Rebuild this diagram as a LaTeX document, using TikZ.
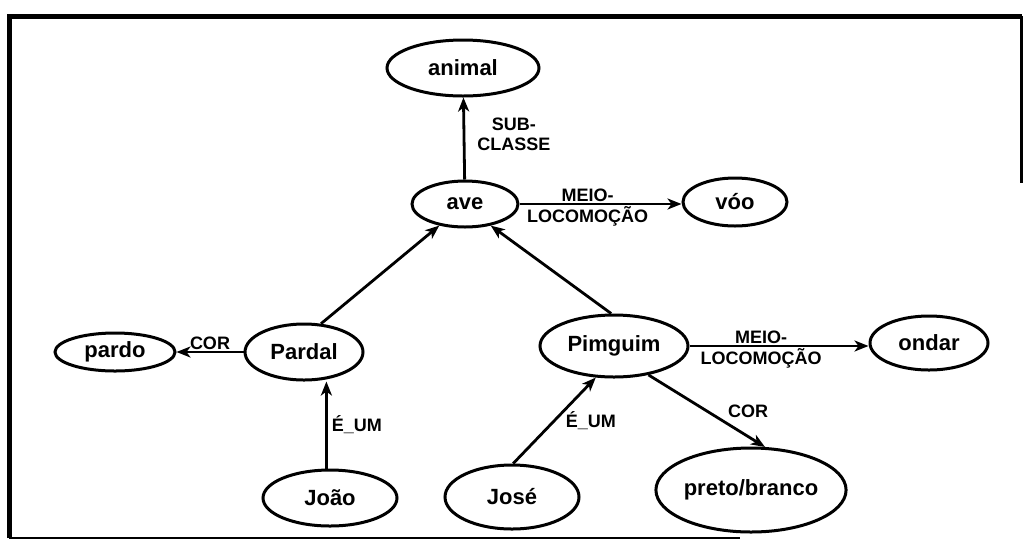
\documentclass[tikz,border=0pt]{standalone}
\usepackage{fontspec}
\setmainfont{Liberation Sans}
\usetikzlibrary{shapes.geometric,arrows.meta}
\begin{document}
\begin{tikzpicture}[x=1pt,y=-1pt,
  concept/.style={ellipse,draw,line width=3pt,inner sep=0pt,
    font=\fontsize{22}{23}\selectfont\bfseries},
  arr/.style={line width=2.8pt,-{Stealth[length=14pt,width=11pt,inset=4pt]}},
  lbl/.style={font=\fontsize{18}{20}\selectfont\bfseries,inner sep=2pt,align=center},
  frame/.style={line width=5pt}]
\useasboundingbox (0,0) rectangle (1025,542);
% frame
\draw[frame] (9,538) -- (9,16) -- (1022,16);
\draw[line width=3pt] (1021,16) -- (1021,183);
\draw[line width=2pt] (9,538) -- (740,538);
% nodes
\node[concept,minimum width=152pt,minimum height=56pt] (animal) at (463,68) {animal};
\node[concept,minimum width=106pt,minimum height=46pt] (ave) at (465,204) {ave};
\node[concept,minimum width=104pt,minimum height=48pt] (voo) at (735,202) {v\'oo};
\node[concept,minimum width=118pt,minimum height=56pt] (pardal) at (304,352) {Pardal};
\node[concept,minimum width=120pt,minimum height=38pt] (pardo) at (115,352) {pardo};
\node[concept,minimum width=134pt,minimum height=56pt] (joao) at (330,498) {João};
\node[concept,minimum width=148pt,minimum height=62pt] (pimguim) at (614,346) {Pimguim};
\node[concept,minimum width=134pt,minimum height=64pt] (jose) at (512,497) {José};
\node[concept,minimum width=148pt,minimum height=84pt] (preto) at (751,490) {preto/branco};
\node[concept,minimum width=118pt,minimum height=54pt] (ondar) at (929,343) {ondar};
% edges
\draw[arr] (ave) -- (animal) node[lbl,pos=0.55,right,xshift=10pt] {SUB-\\CLASSE};
\draw[arr] (ave.east) -- (voo.west |- ave.east) node[lbl,pos=0.42,above,inner sep=1pt] {MEIO-} node[lbl,pos=0.42,below,inner sep=1pt] {LOCOMOÇÃO};
\draw[arr] (pardal.59) -- (ave.220);
\draw[arr] (pimguim.95) -- (ave.320);
\draw[arr] (pardal) -- (pardo) node[lbl,midway,above,inner sep=1pt] {COR};
\draw[arr] (joao.97) -- (joao.97 |- pardal.south) node[lbl,midway,right,xshift=2pt] {É\_UM};
\draw[arr] (jose.88) -- (pimguim.240) node[lbl,midway,right,xshift=8pt] {É\_UM};
\draw[arr] (pimguim.320) -- (preto.72) node[lbl,midway,right,xshift=18pt] {COR};
\draw[arr] (pimguim.east) -- (ondar.west |- pimguim.east) node[lbl,pos=0.4,above,inner sep=1pt] {MEIO-} node[lbl,pos=0.4,below,inner sep=1pt] {LOCOMOÇÃO};
\end{tikzpicture}
\end{document}
